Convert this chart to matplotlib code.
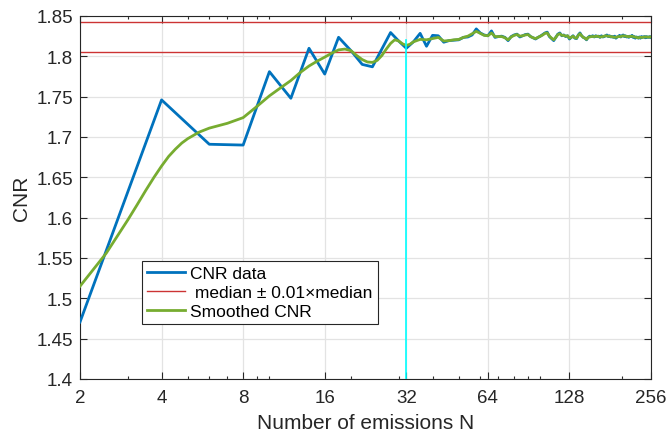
import numpy as np
import matplotlib
matplotlib.use('Agg')
import matplotlib.pyplot as plt
from matplotlib.ticker import FixedLocator, NullFormatter

plt.rcParams['font.family'] = ['Liberation Sans', 'DejaVu Sans']

# Number of emissions (every even N from 2 to 256)
n_emissions = np.arange(2, 257, 2)

# Measured CNR for each N
cnr = [
    1.4706, 1.746, 1.691, 1.690, 1.781, 1.748, 1.810, 1.778, 1.8236, 1.807,
    1.790, 1.787, 1.809, 1.8295, 1.819, 1.8100, 1.818, 1.8285, 1.8125, 1.826,
    1.8255, 1.8175, 1.8195, 1.820, 1.8205, 1.8235, 1.824, 1.8265, 1.834, 1.829,
    1.8265, 1.8255, 1.8315, 1.8235, 1.8245, 1.825, 1.8235, 1.8195, 1.8245, 1.8265,
    1.8275, 1.824, 1.8255, 1.827, 1.8275, 1.8245, 1.823, 1.8215, 1.8235, 1.825,
    1.827, 1.829, 1.830, 1.8245, 1.822, 1.8195, 1.8235, 1.8275, 1.829, 1.8255,
    1.8265, 1.8245, 1.8255, 1.8215, 1.8235, 1.8255, 1.8225, 1.822, 1.8265, 1.829,
    1.8255, 1.8235, 1.8225, 1.8205, 1.8235, 1.825, 1.8245, 1.8255, 1.824, 1.8255,
    1.8245, 1.825, 1.8235, 1.8255, 1.824, 1.8245, 1.8255, 1.8265, 1.8245, 1.8255,
    1.824, 1.8245, 1.8235, 1.825, 1.8225, 1.824, 1.8245, 1.826, 1.824, 1.8255,
    1.8265, 1.8245, 1.8255, 1.824, 1.8245, 1.8235, 1.825, 1.8245, 1.826, 1.8235,
    1.8245, 1.8225, 1.824, 1.8235, 1.8225, 1.824, 1.8225, 1.8245, 1.8235, 1.824,
    1.8245, 1.823, 1.8245, 1.8235, 1.824, 1.8235, 1.8245, 1.8235,
]
assert len(cnr) == len(n_emissions)

# Smoothed CNR curve
smooth_n = [
    2, 2.5, 3, 3.25, 3.5, 3.75, 4, 4.25, 4.5, 4.75, 5, 5.5, 6, 7, 8, 9, 10, 11, 12,
    13, 14, 15, 16, 17, 18, 19, 20, 21, 22, 23, 24, 25, 26, 27, 28, 29, 30, 31, 32,
    33, 34, 36, 38, 40,
    42, 44, 46, 48, 50, 52, 54, 56, 58, 60, 62, 64, 66, 68, 70, 72, 74, 76, 78, 80,
    82, 84, 86, 88, 90, 92, 94, 96, 98, 100, 102, 104, 106, 108, 110, 112, 114, 116,
    118, 120, 122, 124, 126, 128, 130, 132, 134, 136, 138, 140, 142, 144, 146, 148,
    150, 154, 158, 162, 166, 170, 174, 178, 182, 186, 190, 194, 198, 202, 206, 210,
    214, 218, 222, 226, 230, 234, 238, 242, 246, 250, 254, 256,
]
smooth_cnr = [
    1.515, 1.556, 1.597, 1.616, 1.634, 1.650, 1.664, 1.676, 1.685, 1.6925,
    1.698, 1.706, 1.711, 1.717, 1.724,
    1.738, 1.751, 1.761, 1.770, 1.780, 1.788, 1.794, 1.799, 1.804, 1.808, 1.809,
    1.807, 1.801, 1.796, 1.793, 1.7925, 1.795, 1.801, 1.809, 1.816, 1.8205, 1.819,
    1.8155, 1.8135, 1.815, 1.818, 1.821, 1.8205, 1.822, 1.8235, 1.819, 1.8195,
    1.8205, 1.821, 1.8235, 1.825, 1.828, 1.831, 1.8285, 1.826, 1.8255, 1.829,
    1.8245, 1.8245, 1.8245, 1.823, 1.8205, 1.824, 1.826, 1.827, 1.825, 1.8255,
    1.8265, 1.827, 1.8245, 1.823, 1.822, 1.8235, 1.825, 1.8265, 1.8285, 1.829,
    1.825, 1.8225, 1.8205, 1.8235, 1.827, 1.828, 1.826, 1.826, 1.825, 1.8255,
    1.8225, 1.8235, 1.825, 1.823, 1.8225, 1.826, 1.828, 1.8255, 1.8235, 1.8225,
    1.821, 1.8235, 1.8245, 1.8245, 1.825, 1.824, 1.8245, 1.8255, 1.825, 1.8245,
    1.824, 1.8235, 1.8245, 1.8245, 1.8255, 1.825, 1.8245, 1.8245, 1.825, 1.824,
    1.8235, 1.823, 1.8235, 1.8235, 1.824, 1.824, 1.8238, 1.824, 1.824,
]
assert len(smooth_cnr) == len(smooth_n)

median_cnr = 1.824
tolerance = 0.01
n_stable = 32
cnr_stable = 1.8205

x_ticks = [2, 4, 8, 16, 32, 64, 128, 256]
x_minor = [3, 5, 6, 7, 9, 10, 20, 30, 40, 50, 60, 70, 80, 90, 100, 200]
y_ticks = np.round(np.arange(1.40, 1.851, 0.05), 2)

blue = '#0072BD'
green = '#77AC30'
red = '#cc3333'
axis_col = '#262626'

fig = plt.figure(figsize=(6.7, 4.35), dpi=100)
ax = fig.add_axes([80 / 670, 1 - 380 / 435, 571 / 670, 363 / 435])

ax.plot(n_emissions, cnr, color=blue, lw=2.0, label='CNR data', zorder=3)
ax.axhline(median_cnr * (1 + tolerance), color=red, lw=1.0, zorder=2)
ax.axhline(median_cnr * (1 - tolerance), color=red, lw=1.0, zorder=2,
           label=' median \u00b1 0.01\u00d7median')
ax.plot(smooth_n, smooth_cnr, color=green, lw=2.0, label='Smoothed CNR', zorder=4)
ax.plot([n_stable, n_stable], [1.4, cnr_stable], color='cyan', lw=1.2, zorder=5)

ax.set_xscale('log', base=2)
ax.set_xlim(2, 256)
ax.set_ylim(1.4, 1.85)
ax.set_xticks(x_ticks)
ax.set_xticklabels([str(t) for t in x_ticks])
ax.xaxis.set_minor_locator(FixedLocator(x_minor))
ax.xaxis.set_minor_formatter(NullFormatter())
ax.set_yticks(y_ticks)
ax.set_yticklabels(['%g' % t for t in y_ticks])

ax.grid(True, which='major', color='#e3e3e3', lw=0.9)
ax.set_axisbelow(True)
ax.tick_params(which='both', direction='in', top=True, right=True,
               colors=axis_col, labelsize=13.5, labelcolor='#262626')
ax.tick_params(which='major', length=5, width=0.8)
ax.tick_params(axis='x', which='major', pad=7)
ax.tick_params(axis='y', which='major', pad=5)
ax.tick_params(which='minor', length=2.5, width=0.8)
for sp in ax.spines.values():
    sp.set_color(axis_col)
    sp.set_linewidth(0.8)

ax.set_xlabel('Number of emissions N', fontsize=15, color='#262626', labelpad=5)
ax.set_ylabel('CNR', fontsize=15, color='#262626', labelpad=4)

leg = ax.legend(loc='upper left', bbox_to_anchor=(141.7 / 670, 1 - 262 / 435),
                bbox_transform=fig.transFigure, fontsize=12.5, fancybox=False,
                framealpha=1, edgecolor='#262626', handlelength=2.2,
                handletextpad=0.3, borderpad=0.3, labelspacing=0.2,
                borderaxespad=0)
leg.get_frame().set_linewidth(0.8)

fig.savefig('out.png', dpi=100)
